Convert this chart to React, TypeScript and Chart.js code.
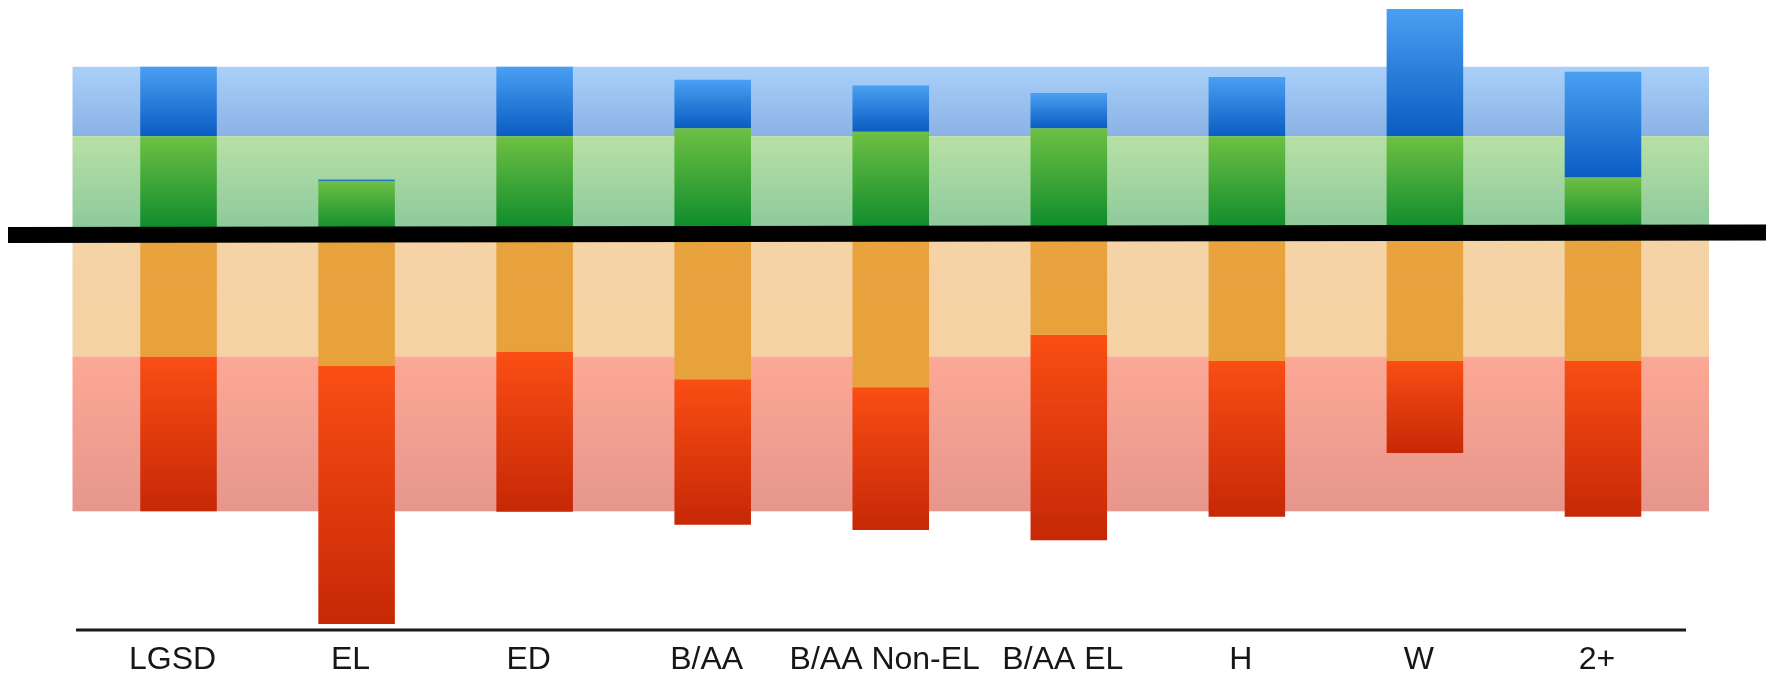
import React, { useEffect, useRef } from "react";
import { Chart, registerables } from "chart.js";

Chart.register(...registerables);

// ---- data (percent of students per level) ----
const categories = ["LGSD", "EL", "ED", "B/AA", "B/AA Non-EL", "B/AA EL", "H", "W", "2+"];
const advanced = [15.6, 0.4, 15.6, 10.9, 10.4, 7.9, 13.3, 28.6, 23.8]; // blue, on top
const proficient = [22.2, 12.1, 22.2, 24.0, 23.2, 24.0, 22.2, 22.2, 12.9]; // green, just above zero
const basic = [27.3, 29.4, 26.3, 32.4, 34.2, 22.4, 28.3, 28.3, 28.3]; // orange, just below zero
const belowBasic = [34.8, 58.0, 35.9, 32.7, 32.1, 46.2, 35.0, 20.7, 35.0]; // red, bottom
const referenceIndex = 0; // background bands show the LGSD distribution

// ---- styles ----
const W = 1766;
const H = 678;
const BAR_GRAD = {
  blue: ["#4aa0f2", "#0a5cc2"],
  green: ["#6ec044", "#08882a"],
  orange: ["#e8a33e", "#e8a23c"],
  red: ["#fa4e14", "#c62806"],
};
const BAND_GRAD = {
  blue: ["#aad0fa", "#8ab2e4"],
  green: ["#b8e0a6", "#8ac89a"],
  orange: ["#f4d3a6", "#f4d2a4"],
  red: ["#fca896", "#e6968c"],
};
const BAND_OVERHANG = 17;
const ZERO_LINE_LEFT = 8;
const ZERO_LINE_WIDTH = 16;
const ZERO_LINE_TILT = 2.4;

type Key = "blue" | "green" | "orange" | "red";

function segRange(key: Key, i: number): [number, number] {
  if (key === "green") return [proficient[i], 0];
  if (key === "blue") return [proficient[i] + advanced[i], proficient[i]];
  if (key === "orange") return [0, -basic[i]];
  return [-basic[i], -basic[i] - belowBasic[i]];
}

function gradFor(chart: any, key: Key, i: number, cols: string[]) {
  const y = chart.scales?.y;
  if (!y || !chart.chartArea || i === undefined || i === null) return cols[0];
  const [top, bottom] = segRange(key, i);
  let y1 = y.getPixelForValue(top);
  let y2 = y.getPixelForValue(bottom);
  if (!isFinite(y1) || !isFinite(y2)) return cols[0];
  if (Math.abs(y2 - y1) < 1) y2 = y1 + 1;
  const g = chart.ctx.createLinearGradient(0, y1, 0, y2);
  g.addColorStop(0, cols[0]);
  g.addColorStop(1, cols[1]);
  return g;
}

const bandsPlugin = {
  id: "bands",
  beforeDatasetsDraw(chart: any) {
    const { ctx, chartArea, scales } = chart;
    const y = scales.y;
    const x = scales.x;
    const cell = x.getPixelForValue(1) - x.getPixelForValue(0);
    const left = x.getPixelForValue(0) - cell / 2 - BAND_OVERHANG;
    const right = x.getPixelForValue(categories.length - 1) + cell / 2 + BAND_OVERHANG;
    const keys: Key[] = ["blue", "green", "orange", "red"];
    ctx.save();
    keys.forEach((k) => {
      const [top, bottom] = segRange(k, referenceIndex);
      const y1 = y.getPixelForValue(top);
      const y2 = y.getPixelForValue(bottom);
      const g = ctx.createLinearGradient(0, y1, 0, y2);
      g.addColorStop(0, BAND_GRAD[k][0]);
      g.addColorStop(1, BAND_GRAD[k][1]);
      ctx.fillStyle = g;
      ctx.fillRect(left, y1, right - left, y2 - y1);
    });
    ctx.restore();
  },
  afterDatasetsDraw(chart: any) {
    const { ctx, chartArea, scales } = chart;
    const y0 = scales.y.getPixelForValue(0);
    ctx.save();
    // thick zero line
    ctx.strokeStyle = "#000";
    ctx.lineWidth = ZERO_LINE_WIDTH;
    ctx.beginPath();
    ctx.moveTo(ZERO_LINE_LEFT, y0);
    ctx.lineTo(chart.width, y0 - ZERO_LINE_TILT);
    ctx.stroke();
    // bottom axis line
    ctx.strokeStyle = "#1a1a1a";
    ctx.lineWidth = 3;
    ctx.beginPath();
    ctx.moveTo(chartArea.left - 13.5, chartArea.bottom - 1);
    ctx.lineTo(chartArea.right - 6, chartArea.bottom - 1);
    ctx.stroke();
    ctx.restore();
  },
};

export default function App() {
  const ref = useRef<HTMLCanvasElement | null>(null);

  useEffect(() => {
    if (!ref.current) return;
    const mk = (label: string, key: Key, values: number[]) => ({
      label,
      data: values,
      backgroundColor: (c: any) => gradFor(c.chart, key, c.dataIndex, BAR_GRAD[key]),
      borderWidth: 0,
      barPercentage: 0.43,
      categoryPercentage: 1,
    });
    const chart = new Chart(ref.current, {
      type: "bar",
      data: {
        labels: categories,
        datasets: [
          mk("Proficient", "green", proficient),
          mk("Advanced", "blue", advanced),
          mk("Basic", "orange", basic.map((v) => -v)),
          mk("Below Basic", "red", belowBasic.map((v) => -v)),
        ],
      },
      options: {
        animation: false,
        responsive: false,
        devicePixelRatio: 1,
        layout: { padding: { left: 89.5, right: 74, top: 0, bottom: 0 } },
        plugins: { legend: { display: false }, tooltip: { enabled: false } },
        scales: {
          x: {
            stacked: true,
            offset: true,
            grid: { display: false, drawTicks: false },
            border: { display: false },
            ticks: {
              color: "#161616",
              font: { family: "'Liberation Sans', Arial, sans-serif", size: 32, lineHeight: 1 },
              padding: 13.5,
              labelOffset: -6,
              maxRotation: 0,
              autoSkip: false,
            },
            afterFit: (s: any) => {
              s.height = 47;
            },
          },
          y: { stacked: true, display: false, min: -89, max: 52.8 },
        },
      },
      plugins: [bandsPlugin],
    } as any);
    return () => chart.destroy();
  }, []);

  return (
    <div style={{ position: "fixed", left: 0, top: 0, width: W, height: H, overflow: "hidden", background: "#fff" }}>
      <canvas ref={ref} width={W} height={H} style={{ display: "block", width: W, height: H }} />
    </div>
  );
}
